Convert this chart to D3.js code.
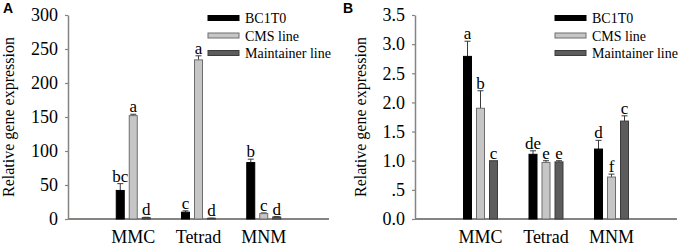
<!DOCTYPE html>
<html>
<head>
<meta charset="utf-8">
<script src="https://cdn.jsdelivr.net/npm/d3@7"></script>
<style>
  body { margin: 0; background: #fff; }
  svg { display: block; }
  text { font-family: "Liberation Serif", "Times New Roman", serif; fill: #000; }
</style>
</head>
<body>
<div id="chart"></div>
<script>
// Data
const categories = ["MMC", "Tetrad", "MNM"];
const seriesNames = ["BC1T0", "CMS line", "Maintainer line"];

const aBC1T0 = [42, 10, 83];
const aBC1T0Err = [10, 2, 5];
const aCMS = [152, 234, 8];
const aCMSErr = [2, 6, 1];
const aMaintainer = [2, 1, 3];
const aMaintainerErr = [0.5, 0.3, 0.5];
const aLetters = [["bc", "c", "b"], ["a", "a", "c"], ["d", "d", "d"]];
const aTicks = [0, 50, 100, 150, 200, 250, 300];
const aTickLabels = ["0", "50", "100", "150", "200", "250", "300"];

const bBC1T0 = [2.79, 1.11, 1.2];
const bBC1T0Err = [0.26, 0.06, 0.15];
const bCMS = [1.9, 0.97, 0.72];
const bCMSErr = [0.3, 0.03, 0.05];
const bMaintainer = [1.0, 0.98, 1.68];
const bMaintainerErr = [0, 0.02, 0.09];
const bLetters = [["a", "de", "d"], ["b", "e", "f"], ["c", "e", "c"]];
const bTicks = [0, 0.5, 1, 1.5, 2, 2.5, 3, 3.5];
const bTickLabels = ["0.0", ".5", "1.0", "1.5", "2.0", "2.5", "3.0", "3.5"];

const fills = ["#000000", "#c6c6c6", "#5c5c5c"];
const outlines = ["#000000", "#6e6e6e", "#3c3c3c"];
const axisColor = "#878380";

const width = 680;
const height = 248;

const svg = d3.select("#chart")
  .append("svg")
    .attr("width", width)
    .attr("height", height);

const drawPanel = (opts) => {
  const {letter, offsetX, axisX, axisLen, yMax, ticks, tickLabels, values, errors, letters, titleX} = opts;
  const top = 15;
  const bottom = 219;

  const panel = svg.append("g")
    .attr("transform", `translate(${offsetX}, 0)`);

  /****************************/
  /*    Declare the scales    */
  /****************************/
  const xScale = d3.scalePoint()
    .domain(categories)
    .range([axisX, axisX + axisLen])
    .padding(1);

  const yScale = d3.scaleLinear()
    .domain([0, yMax])
    .range([bottom, top]);

  const barWidth = 8;
  const barStep = 13;

  /**************************/
  /*      Add the axes      */
  /**************************/
  const leftAxis = d3.axisLeft(yScale)
    .tickValues(ticks)
    .tickFormat((d, i) => tickLabels[i])
    .tickSize(3)
    .tickSizeOuter(0)
    .tickPadding(7);
  const yAxisG = panel.append("g")
    .attr("transform", `translate(${axisX}, 0)`)
    .call(leftAxis);
  yAxisG.select(".domain").attr("stroke", axisColor).attr("stroke-width", 1.5);
  yAxisG.selectAll(".tick line").attr("stroke", axisColor).attr("stroke-width", 1.2);
  yAxisG.selectAll(".tick text")
    .style("font-family", "'Liberation Serif', serif")
    .style("font-size", "18px")
    .attr("fill", "#000");

  panel.append("line")
    .attr("x1", axisX)
    .attr("x2", axisX + axisLen)
    .attr("y1", bottom)
    .attr("y2", bottom)
    .attr("stroke", axisColor)
    .attr("stroke-width", 2);

  panel.selectAll(".cat-label")
    .data(categories)
    .join("text")
      .attr("class", "cat-label")
      .attr("x", d => xScale(d))
      .attr("y", 243)
      .attr("text-anchor", "middle")
      .style("font-size", "18px")
      .text(d => d);

  panel.append("text")
    .attr("transform", `translate(${titleX}, ${(top + bottom) / 2}) rotate(-90)`)
    .attr("text-anchor", "middle")
    .style("font-size", "16px")
    .text("Relative gene expression");

  panel.append("text")
    .attr("x", 3)
    .attr("y", 13)
    .style("font-family", "'Liberation Sans', Arial, sans-serif")
    .style("font-weight", "bold")
    .style("font-size", "14px")
    .text(letter);

  /******************************/
  /*      Add the bars          */
  /******************************/
  seriesNames.forEach((name, s) => {
    const rows = categories.map((c, i) => ({
      cat: c,
      value: values[s][i],
      err: errors[s][i],
      letter: letters[s][i]
    }));
    const cx = d => xScale(d.cat) + (s - 1) * barStep;

    const g = panel.append("g");

    // error bars, upward only
    g.selectAll(".err")
      .data(rows.filter(d => d.err > 0))
      .join("g")
        .attr("class", "err")
        .attr("stroke", "#3a3a3a")
        .attr("stroke-width", 1)
        .each(function(d) {
          const e = d3.select(this);
          e.append("line")
            .attr("x1", cx(d)).attr("x2", cx(d))
            .attr("y1", yScale(d.value)).attr("y2", yScale(d.value + d.err));
          e.append("line")
            .attr("x1", cx(d) - 3).attr("x2", cx(d) + 3)
            .attr("y1", yScale(d.value + d.err)).attr("y2", yScale(d.value + d.err));
        });

    g.selectAll("rect")
      .data(rows)
      .join("rect")
        .attr("x", d => cx(d) - barWidth / 2)
        .attr("y", d => yScale(d.value))
        .attr("width", barWidth)
        .attr("height", d => bottom - yScale(d.value))
        .attr("fill", fills[s])
        .attr("stroke", outlines[s])
        .attr("stroke-width", 1);

    g.selectAll(".sig")
      .data(rows)
      .join("text")
        .attr("class", "sig")
        .attr("x", d => cx(d))
        .attr("y", d => yScale(d.value + d.err) - 2)
        .attr("text-anchor", "middle")
        .style("font-size", "17px")
        .text(d => d.letter);
  });

  /******************************/
  /*      Add the legend        */
  /******************************/
  const legend = panel.append("g")
    .attr("transform", `translate(${axisX + 140}, 0)`);
  seriesNames.forEach((name, s) => {
    const ly = 18 + s * 17.5;
    legend.append("rect")
      .attr("x", 0)
      .attr("y", ly - 2.5)
      .attr("width", 31)
      .attr("height", 5)
      .attr("fill", fills[s])
      .attr("stroke", outlines[s])
      .attr("stroke-width", 1);
    legend.append("text")
      .attr("x", 37)
      .attr("y", ly + 5)
      .style("font-family", "'Liberation Serif', serif")
      .style("font-size", "14px")
      .text(name);
  });
};

drawPanel({
  letter: "A",
  offsetX: 0,
  axisX: 68,
  axisLen: 261,
  yMax: 300,
  ticks: aTicks,
  tickLabels: aTickLabels,
  values: [aBC1T0, aCMS, aMaintainer],
  errors: [aBC1T0Err, aCMSErr, aMaintainerErr],
  letters: aLetters,
  titleX: 14
});

drawPanel({
  letter: "B",
  offsetX: 340,
  axisX: 75,
  axisLen: 262,
  yMax: 3.5,
  ticks: bTicks,
  tickLabels: bTickLabels,
  values: [bBC1T0, bCMS, bMaintainer],
  errors: [bBC1T0Err, bCMSErr, bMaintainerErr],
  letters: bLetters,
  titleX: 26
});
</script>
</body>
</html>
